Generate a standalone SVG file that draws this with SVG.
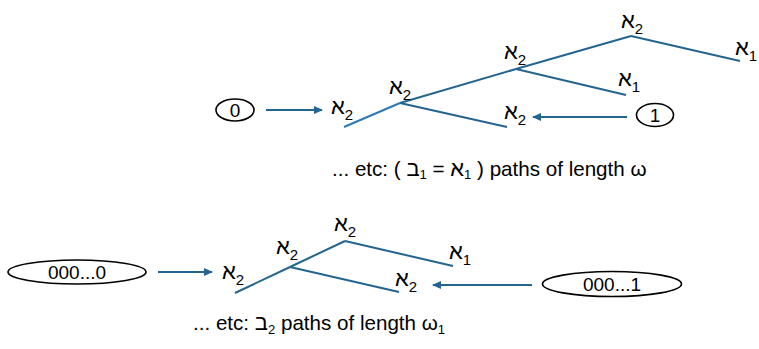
<svg xmlns="http://www.w3.org/2000/svg" width="759" height="349" viewBox="0 0 759 349">
<style>
text{unicode-bidi:bidi-override;direction:ltr}
.lbl{font-family:"Liberation Sans","DejaVu Sans",sans-serif;font-size:22px;fill:#000}
.sub{font-size:15px}
.cap{font-family:"Liberation Sans","DejaVu Sans",sans-serif;font-size:20.6px;fill:#000}
.heb{font-size:22px}
.capsub{font-size:13px}
.node ellipse{fill:#fff;stroke:#000;stroke-width:1.6}
.nt{font-family:"Liberation Sans","DejaVu Sans",sans-serif;font-size:19px;fill:#000;text-anchor:middle}
.edge{stroke:#23658F;stroke-width:2;fill:none}
.arrow{stroke:#23658F;stroke-width:2;fill:none;marker-end:url(#ah)}
</style>
<defs>
<marker id="ah" markerWidth="10" markerHeight="10" refX="8" refY="5" orient="auto" markerUnits="userSpaceOnUse">
<path d="M0,1 L9,5 L0,9 Z" fill="#23658F"/>
</marker>
</defs>
<rect width="759" height="349" fill="#fff"/>
<g id="connectors">
<line class="edge" x1="344" y1="127" x2="400" y2="103" style="stroke:#2E78B5"/>
<line class="edge" x1="400" y1="103" x2="516" y2="69"/>
<line class="edge" x1="400" y1="103" x2="507" y2="127"/>
<line class="edge" x1="516" y1="69" x2="631" y2="36"/>
<line class="edge" x1="516" y1="69" x2="626" y2="95"/>
<line class="edge" x1="631" y1="36" x2="740" y2="61"/>
<line class="arrow" x1="266" y1="110" x2="322" y2="110"/>
<line class="arrow" x1="627" y1="117" x2="533" y2="117"/>
<line class="edge" x1="235" y1="293" x2="290" y2="267"/>
<line class="edge" x1="290" y1="267" x2="345" y2="241"/>
<line class="edge" x1="290" y1="267" x2="399" y2="292"/>
<line class="edge" x1="345" y1="241" x2="453" y2="266"/>
<line class="arrow" x1="158" y1="272" x2="212" y2="272"/>
<line class="arrow" x1="532" y1="285" x2="433" y2="285"/>
</g>
<g id="n0" class="node"><ellipse cx="235" cy="110" rx="19" ry="11"/><text class="nt" x="235" y="117">0</text></g>
<g id="n1" class="node"><ellipse cx="655" cy="115" rx="18.5" ry="11.5"/><text class="nt" x="655" y="122">1</text></g>
<g id="n000_0" class="node"><ellipse cx="77" cy="272" rx="69" ry="12"/><text class="nt" x="77" y="279">000...0</text></g>
<g id="n000_1" class="node"><ellipse cx="612" cy="284" rx="69.5" ry="12.5"/><text class="nt" x="612" y="291">000...1</text></g>
<g id="a1"><text class="lbl" x="331" y="114">א<tspan class="sub" dy="6">2</tspan></text></g>
<g id="a2"><text class="lbl" x="389" y="94">א<tspan class="sub" dy="6">2</tspan></text></g>
<g id="a3"><text class="lbl" x="504" y="59">א<tspan class="sub" dy="6">2</tspan></text></g>
<g id="a4"><text class="lbl" x="621" y="28">א<tspan class="sub" dy="6">2</tspan></text></g>
<g id="a5"><text class="lbl" x="735" y="55">א<tspan class="sub" dy="6">1</tspan></text></g>
<g id="a6"><text class="lbl" x="618" y="86">א<tspan class="sub" dy="6">1</tspan></text></g>
<g id="a7"><text class="lbl" x="504" y="119">א<tspan class="sub" dy="6">2</tspan></text></g>
<g id="b1"><text class="lbl" x="222" y="279">א<tspan class="sub" dy="6">2</tspan></text></g>
<g id="b2"><text class="lbl" x="276" y="254">א<tspan class="sub" dy="6">2</tspan></text></g>
<g id="b3"><text class="lbl" x="334" y="231">א<tspan class="sub" dy="6">2</tspan></text></g>
<g id="b4"><text class="lbl" x="449" y="259">א<tspan class="sub" dy="6">1</tspan></text></g>
<g id="b5"><text class="lbl" x="395" y="286">א<tspan class="sub" dy="6">2</tspan></text></g>
<g id="cap1"><text class="cap" x="332" y="176">... etc: ( <tspan class="heb">ב</tspan><tspan class="capsub" dy="3">1</tspan><tspan dy="-3"> = </tspan><tspan class="heb">א</tspan><tspan class="capsub" dy="3">1</tspan><tspan dy="-3"> ) paths of length ω</tspan></text></g>
<g id="cap2"><text class="cap" x="193" y="330">... etc: <tspan class="heb">ב</tspan><tspan class="capsub" dy="4">2</tspan><tspan dy="-4"> paths of length ω</tspan><tspan class="capsub" dy="4">1</tspan></text></g>
</svg>
